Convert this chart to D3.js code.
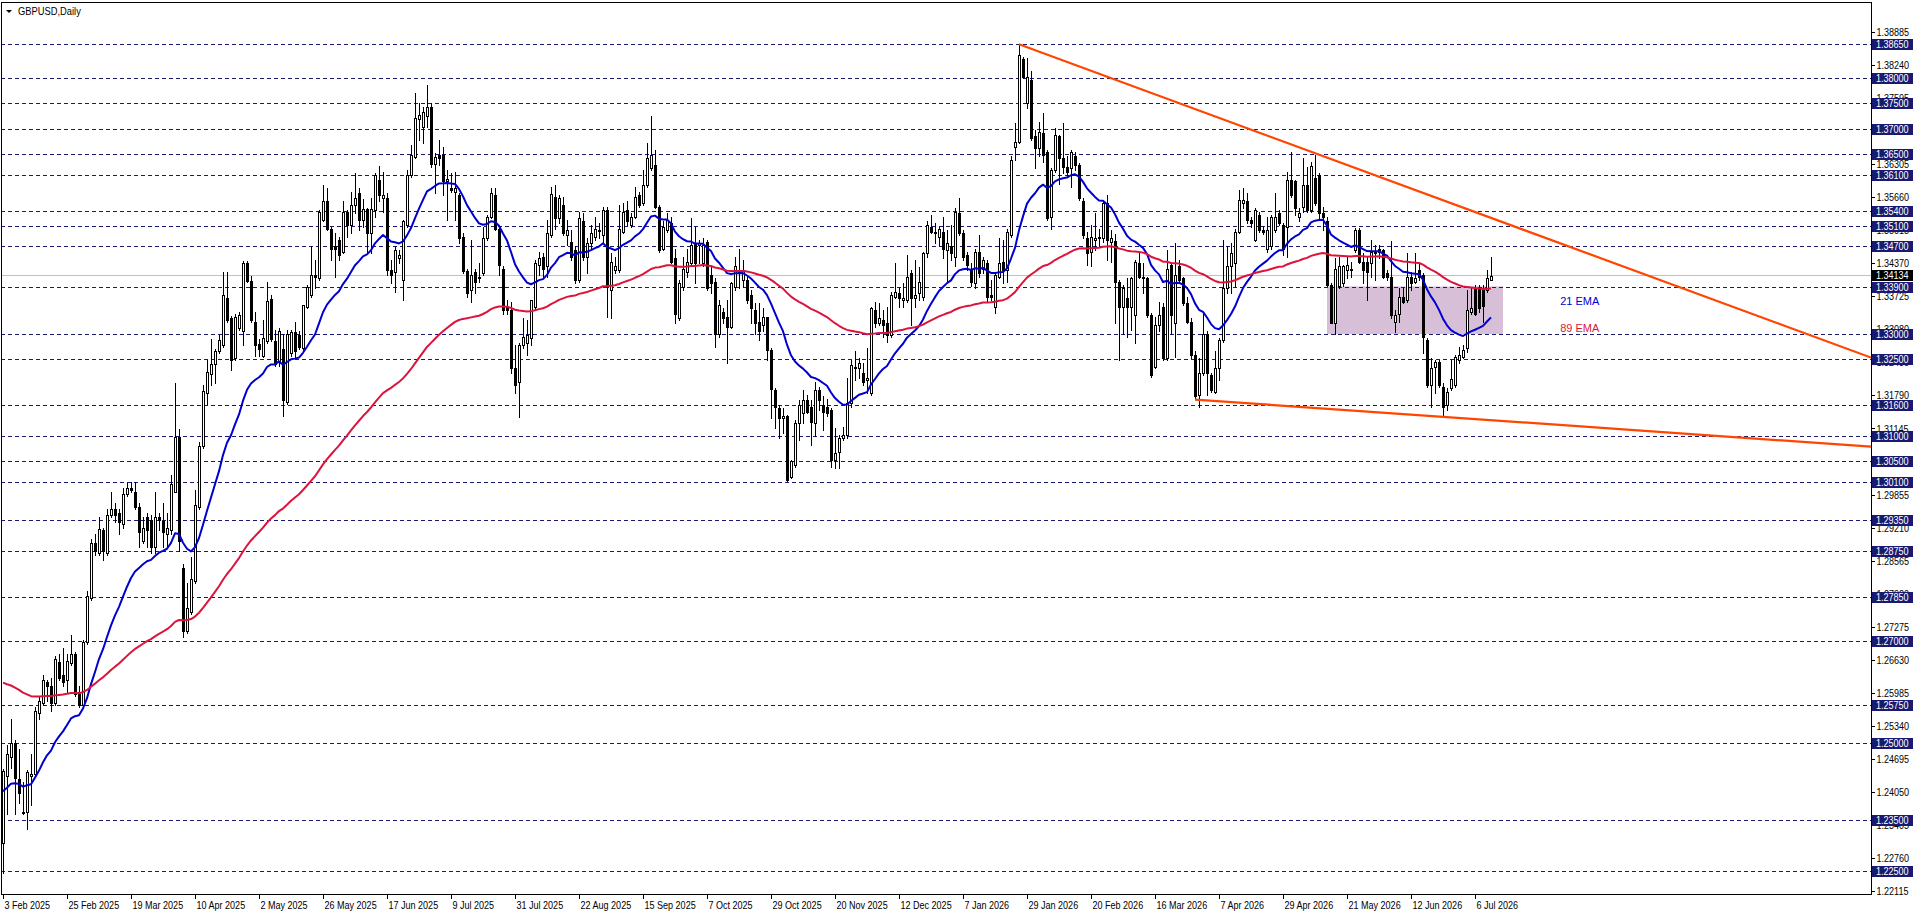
<!DOCTYPE html>
<html><head><meta charset="utf-8">
<script src="https://cdn.jsdelivr.net/npm/d3@7/dist/d3.min.js"></script>
<style>html,body{margin:0;padding:0;background:#fff;overflow:hidden}svg{display:block}</style>
</head><body>
<svg id="chart" width="1916" height="915"></svg>
<script>
// ---------------- DATA ----------------
const opens = [
1.2304,1.2435,1.2472,1.2501,1.2429,1.2366,1.2366,1.2435,1.2439,1.2559,
1.2579,1.2620,1.2612,1.2579,1.2659,1.2632,1.2624,1.2657,1.2674,1.2600,
1.2575,1.2698,1.2784,1.2891,1.2871,1.2916,1.2871,1.2945,1.2957,1.2949,
1.2928,1.2986,1.2998,1.2990,1.2961,1.2895,1.2941,1.2936,1.2883,1.2941,
1.2934,1.2908,1.2916,1.2990,1.3097,1.2842,1.2719,1.2756,1.2817,1.2961,
1.3080,1.3183,1.3220,1.3240,1.3265,1.3277,1.3369,1.3331,1.3253,1.3310,
1.3304,1.3438,1.3402,1.3323,1.3279,1.3257,1.3286,1.3368,1.3286,1.3245,
1.3269,1.3166,1.3261,1.3302,1.3298,1.3271,1.3352,1.3375,1.3414,1.3408,
1.3522,1.3558,1.3505,1.3470,1.3483,1.3460,1.3538,1.3512,1.3551,1.3574,
1.3522,1.3543,1.3496,1.3541,1.3600,1.3564,1.3564,1.3424,1.3421,1.3447,
1.3405,1.3512,1.3610,1.3645,1.3720,1.3704,1.3724,1.3743,1.3632,1.3649,
1.3649,1.3597,1.3584,1.3577,1.3571,1.3489,1.3423,1.3385,1.3421,1.3411,
1.3418,1.3486,1.3528,1.3571,1.3505,1.3427,1.3352,1.3346,1.3232,1.3206,
1.3278,1.3281,1.3291,1.3352,1.3434,1.3450,1.3431,1.3492,1.3567,1.3525,
1.3551,1.3492,1.3479,1.3463,1.3405,1.3519,1.3450,1.3476,1.3489,1.3501,
1.3492,1.3541,1.3385,1.3424,1.3424,1.3499,1.3541,1.3512,1.3528,1.3571,
1.3554,1.3590,1.3623,1.3629,1.3548,1.3466,1.3502,1.3515,1.3447,1.3330,
1.3391,1.3421,1.3437,1.3476,1.3473,1.3437,1.3479,1.3414,1.3401,1.3300,
1.3343,1.3333,1.3313,1.3391,1.3424,1.3405,1.3405,1.3375,1.3346,1.3323,
1.3317,1.3333,1.3268,1.3190,1.3154,1.3134,1.3138,1.3020,1.3043,1.3125,
1.3144,1.3170,1.3157,1.3125,1.3190,1.3160,1.3157,1.3150,1.3053,1.3069,
1.3095,1.3102,1.3164,1.3232,1.3232,1.3222,1.3209,1.3183,1.3346,1.3320,
1.3326,1.3320,1.3297,1.3372,1.3379,1.3366,1.3366,1.3418,1.3369,1.3380,
1.3372,1.3457,1.3509,1.3496,1.3489,1.3499,1.3463,1.3470,1.3450,1.3535,
1.3496,1.3453,1.3427,1.3398,1.3460,1.3427,1.3437,1.3375,1.3352,1.3411,
1.3440,1.3424,1.3492,1.3665,1.3675,1.3836,1.3750,1.3795,1.3685,1.3662,
1.3691,1.3655,1.3528,1.3620,1.3685,1.3642,1.3626,1.3623,1.3646,1.3629,
1.3558,1.3486,1.3460,1.3483,1.3486,1.3486,1.3554,1.3479,1.3480,1.3401,
1.3352,1.3369,1.3352,1.3337,1.3437,1.3411,1.3408,1.3337,1.3235,1.3317,
1.3352,1.3252,1.3434,1.3320,1.3431,1.3408,1.3359,1.3323,1.3258,1.3180,
1.3222,1.3300,1.3219,1.3186,1.3232,1.3287,1.3388,1.3431,1.3437,1.3499,
1.3554,1.3558,1.3522,1.3483,1.3532,1.3502,1.3466,1.3470,1.3502,1.3535,
1.3512,1.3509,1.3600,1.3597,1.3527,1.3548,1.3590,1.3541,1.3603,1.3610,
1.3535,1.3519,1.3395,1.3320,1.3392,1.3398,1.3424,1.3427,1.3463,1.3502,
1.3440,1.3440,1.3437,1.3457,1.3466,1.3463,1.3418,1.3411,1.3323,1.3339,
1.3372,1.3366,1.3411,1.3401,1.3424,1.3414,1.3287,1.3199,1.3235,1.3245,
1.3196,1.3160,1.3193,1.3199,1.3248,1.3255,1.3271,1.3343,1.3388,1.3388,
1.3385,1.3385,1.3405];

const highs = [
1.2450,1.2497,1.2546,1.2505,1.2489,1.2423,1.2448,1.2479,1.2571,1.2591,
1.2632,1.2624,1.2628,1.2670,1.2674,1.2686,1.2674,1.2711,1.2678,1.2612,
1.2702,1.2797,1.2899,1.2908,1.2941,1.2920,1.2957,1.2990,1.2969,1.2957,
1.2998,1.3008,1.3010,1.3010,1.2969,1.2941,1.2949,1.2945,1.2990,1.2949,
1.2969,1.2949,1.3023,1.3203,1.3113,1.2850,1.2813,1.2863,1.2994,1.3089,
1.3199,1.3249,1.3290,1.3269,1.3298,1.3421,1.3421,1.3335,1.3339,1.3343,
1.3442,1.3442,1.3412,1.3343,1.3290,1.3327,1.3401,1.3376,1.3306,1.3310,
1.3298,1.3306,1.3306,1.3323,1.3305,1.3356,1.3395,1.3470,1.3443,1.3541,
1.3590,1.3584,1.3509,1.3496,1.3489,1.3558,1.3541,1.3577,1.3613,1.3584,
1.3562,1.3545,1.3564,1.3613,1.3627,1.3616,1.3574,1.3443,1.3470,1.3463,
1.3522,1.3619,1.3668,1.3769,1.3750,1.3743,1.3785,1.3750,1.3652,1.3678,
1.3665,1.3619,1.3613,1.3616,1.3574,1.3496,1.3427,1.3483,1.3427,1.3437,
1.3509,1.3532,1.3584,1.3584,1.3509,1.3431,1.3365,1.3362,1.3278,1.3281,
1.3330,1.3326,1.3365,1.3443,1.3460,1.3457,1.3522,1.3587,1.3590,1.3570,
1.3567,1.3522,1.3502,1.3470,1.3538,1.3535,1.3486,1.3512,1.3528,1.3515,
1.3548,1.3548,1.3457,1.3450,1.3551,1.3554,1.3558,1.3535,1.3587,1.3577,
1.3619,1.3672,1.3724,1.3658,1.3551,1.3519,1.3535,1.3528,1.3466,1.3405,
1.3450,1.3466,1.3525,1.3509,1.3483,1.3486,1.3483,1.3431,1.3408,1.3365,
1.3349,1.3365,1.3401,1.3450,1.3466,1.3443,1.3411,1.3385,1.3359,1.3359,
1.3349,1.3333,1.3271,1.3193,1.3160,1.3154,1.3141,1.3053,1.3131,1.3170,
1.3190,1.3180,1.3170,1.3206,1.3196,1.3177,1.3173,1.3154,1.3115,1.3102,
1.3118,1.3213,1.3248,1.3265,1.3252,1.3242,1.3271,1.3352,1.3362,1.3359,
1.3346,1.3352,1.3382,1.3437,1.3388,1.3398,1.3453,1.3424,1.3444,1.3430,
1.3460,1.3519,1.3532,1.3515,1.3509,1.3528,1.3502,1.3512,1.3545,1.3564,
1.3502,1.3460,1.3437,1.3466,1.3492,1.3450,1.3444,1.3405,1.3421,1.3486,
1.3483,1.3505,1.3646,1.3711,1.3864,1.3841,1.3838,1.3812,1.3698,1.3714,
1.3730,1.3659,1.3623,1.3701,1.3688,1.3711,1.3646,1.3659,1.3655,1.3633,
1.3564,1.3499,1.3512,1.3535,1.3505,1.3561,1.3571,1.3502,1.3495,1.3405,
1.3395,1.3408,1.3411,1.3444,1.3460,1.3437,1.3411,1.3340,1.3333,1.3362,
1.3359,1.3463,1.3437,1.3476,1.3444,1.3411,1.3372,1.3330,1.3265,1.3252,
1.3343,1.3304,1.3222,1.3265,1.3291,1.3483,1.3470,1.3476,1.3505,1.3580,
1.3584,1.3574,1.3528,1.3545,1.3538,1.3510,1.3528,1.3532,1.3574,1.3541,
1.3515,1.3616,1.3655,1.3600,1.3545,1.3642,1.3626,1.3636,1.3649,1.3613,
1.3548,1.3528,1.3398,1.3447,1.3450,1.3434,1.3450,1.3440,1.3506,1.3506,
1.3457,1.3450,1.3483,1.3473,1.3473,1.3466,1.3425,1.3480,1.3346,1.3388,
1.3388,1.3457,1.3421,1.3457,1.3437,1.3418,1.3291,1.3252,1.3248,1.3248,
1.3203,1.3193,1.3248,1.3258,1.3274,1.3278,1.3385,1.3388,1.3395,1.3395,
1.3395,1.3424,1.3450];

const lows = [
1.2246,1.2361,1.2452,1.2361,1.2382,1.2361,1.2333,1.2378,1.2435,1.2546,
1.2575,1.2583,1.2563,1.2575,1.2624,1.2612,1.2600,1.2653,1.2591,1.2571,
1.2571,1.2694,1.2780,1.2867,1.2867,1.2858,1.2867,1.2941,1.2932,1.2908,
1.2920,1.2982,1.2990,1.2957,1.2883,1.2891,1.2883,1.2871,1.2871,1.2916,
1.2883,1.2883,1.2908,1.2990,1.2875,1.2707,1.2715,1.2752,1.2813,1.2957,
1.3076,1.3162,1.3199,1.3203,1.3261,1.3273,1.3323,1.3228,1.3249,1.3306,
1.3277,1.3401,1.3323,1.3257,1.3257,1.3255,1.3282,1.3286,1.3236,1.3236,
1.3138,1.3162,1.3257,1.3253,1.3270,1.3268,1.3350,1.3372,1.3388,1.3405,
1.3519,1.3502,1.3443,1.3411,1.3443,1.3457,1.3489,1.3496,1.3535,1.3502,
1.3509,1.3457,1.3457,1.3528,1.3558,1.3538,1.3414,1.3398,1.3382,1.3437,
1.3365,1.3509,1.3606,1.3642,1.3678,1.3672,1.3704,1.3626,1.3574,1.3629,
1.3571,1.3522,1.3577,1.3522,1.3476,1.3418,1.3372,1.3362,1.3379,1.3401,
1.3414,1.3483,1.3525,1.3502,1.3414,1.3339,1.3339,1.3222,1.3183,1.3137,
1.3271,1.3258,1.3278,1.3346,1.3414,1.3408,1.3411,1.3489,1.3505,1.3515,
1.3492,1.3473,1.3443,1.3398,1.3401,1.3443,1.3418,1.3466,1.3483,1.3486,
1.3476,1.3333,1.3330,1.3418,1.3421,1.3496,1.3512,1.3509,1.3525,1.3548,
1.3551,1.3587,1.3619,1.3545,1.3460,1.3463,1.3499,1.3437,1.3320,1.3326,
1.3385,1.3411,1.3434,1.3398,1.3437,1.3431,1.3385,1.3379,1.3274,1.3294,
1.3320,1.3242,1.3310,1.3385,1.3388,1.3391,1.3359,1.3320,1.3300,1.3287,
1.3304,1.3248,1.3134,1.3115,1.3095,1.3105,1.3012,1.3017,1.3040,1.3092,
1.3125,1.3144,1.3082,1.3099,1.3150,1.3112,1.3138,1.3040,1.3037,1.3037,
1.3092,1.3095,1.3157,1.3209,1.3213,1.3199,1.3183,1.3180,1.3313,1.3317,
1.3294,1.3284,1.3294,1.3369,1.3352,1.3352,1.3362,1.3317,1.3352,1.3365,
1.3366,1.3450,1.3496,1.3476,1.3470,1.3447,1.3401,1.3444,1.3431,1.3492,
1.3444,1.3424,1.3392,1.3388,1.3411,1.3418,1.3362,1.3366,1.3340,1.3408,
1.3398,1.3401,1.3489,1.3639,1.3672,1.3799,1.3740,1.3678,1.3623,1.3646,
1.3636,1.3522,1.3505,1.3616,1.3593,1.3613,1.3606,1.3587,1.3620,1.3561,
1.3486,1.3434,1.3431,1.3463,1.3470,1.3479,1.3444,1.3440,1.3320,1.3248,
1.3300,1.3294,1.3307,1.3281,1.3408,1.3379,1.3333,1.3216,1.3232,1.3304,
1.3248,1.3248,1.3300,1.3255,1.3401,1.3356,1.3320,1.3252,1.3173,1.3157,
1.3219,1.3180,1.3186,1.3183,1.3209,1.3284,1.3379,1.3379,1.3392,1.3496,
1.3545,1.3515,1.3509,1.3480,1.3499,1.3495,1.3460,1.3466,1.3499,1.3512,
1.3453,1.3450,1.3567,1.3532,1.3520,1.3538,1.3538,1.3538,1.3551,1.3522,
1.3502,1.3392,1.3320,1.3300,1.3388,1.3392,1.3408,1.3411,1.3460,1.3437,
1.3398,1.3366,1.3411,1.3405,1.3447,1.3408,1.3405,1.3330,1.3303,1.3323,
1.3359,1.3362,1.3385,1.3398,1.3405,1.3261,1.3196,1.3157,1.3183,1.3196,
1.3141,1.3151,1.3190,1.3196,1.3242,1.3252,1.3264,1.3339,1.3336,1.3343,
1.3323,1.3382,1.3405];

const closes = [
1.2446,1.2479,1.2501,1.2431,1.2403,1.2363,1.2444,1.2439,1.2563,1.2583,
1.2624,1.2612,1.2579,1.2665,1.2628,1.2620,1.2661,1.2674,1.2596,1.2575,
1.2698,1.2788,1.2891,1.2875,1.2918,1.2875,1.2945,1.2958,1.2945,1.2932,
1.2986,1.2998,1.2994,1.2961,1.2912,1.2920,1.2916,1.2883,1.2942,1.2936,
1.2912,1.2920,1.3006,1.3097,1.2895,1.2719,1.2764,1.2821,1.2965,1.3080,
1.3187,1.3224,1.3240,1.3265,1.3287,1.3376,1.3327,1.3249,1.3333,1.3337,
1.3438,1.3402,1.3327,1.3277,1.3269,1.3292,1.3364,1.3290,1.3240,1.3304,
1.3171,1.3300,1.3302,1.3265,1.3273,1.3356,1.3391,1.3414,1.3411,1.3538,
1.3558,1.3505,1.3466,1.3466,1.3453,1.3538,1.3512,1.3551,1.3564,1.3522,
1.3543,1.3496,1.3543,1.3610,1.3571,1.3571,1.3424,1.3414,1.3463,1.3453,
1.3519,1.3610,1.3649,1.3722,1.3727,1.3733,1.3743,1.3632,1.3645,1.3642,
1.3597,1.3601,1.3580,1.3584,1.3486,1.3423,1.3379,1.3414,1.3401,1.3408,
1.3486,1.3528,1.3574,1.3505,1.3434,1.3346,1.3346,1.3232,1.3199,1.3278,
1.3294,1.3297,1.3365,1.3437,1.3447,1.3427,1.3496,1.3572,1.3525,1.3564,
1.3496,1.3502,1.3450,1.3405,1.3525,1.3450,1.3476,1.3496,1.3505,1.3502,
1.3541,1.3391,1.3440,1.3431,1.3505,1.3538,1.3519,1.3528,1.3567,1.3551,
1.3590,1.3642,1.3649,1.3548,1.3463,1.3509,1.3522,1.3440,1.3339,1.3398,
1.3427,1.3440,1.3473,1.3437,1.3476,1.3473,1.3388,1.3398,1.3300,1.3356,
1.3330,1.3313,1.3398,1.3431,1.3418,1.3424,1.3365,1.3349,1.3320,1.3304,
1.3333,1.3268,1.3192,1.3157,1.3134,1.3138,1.3014,1.3050,1.3125,1.3160,
1.3170,1.3147,1.3128,1.3190,1.3170,1.3147,1.3144,1.3053,1.3066,1.3095,
1.3102,1.3164,1.3238,1.3235,1.3242,1.3206,1.3213,1.3349,1.3320,1.3330,
1.3317,1.3297,1.3375,1.3382,1.3369,1.3369,1.3411,1.3369,1.3375,1.3400,
1.3457,1.3512,1.3499,1.3499,1.3505,1.3466,1.3476,1.3457,1.3538,1.3496,
1.3450,1.3434,1.3401,1.3460,1.3418,1.3444,1.3372,1.3372,1.3414,1.3437,
1.3424,1.3499,1.3639,1.3675,1.3844,1.3802,1.3802,1.3681,1.3662,1.3694,
1.3649,1.3525,1.3620,1.3688,1.3642,1.3626,1.3616,1.3655,1.3629,1.3564,
1.3492,1.3457,1.3489,1.3486,1.3489,1.3554,1.3483,1.3486,1.3400,1.3352,
1.3388,1.3352,1.3408,1.3440,1.3411,1.3408,1.3337,1.3219,1.3317,1.3337,
1.3252,1.3427,1.3337,1.3414,1.3405,1.3359,1.3323,1.3258,1.3177,1.3222,
1.3300,1.3222,1.3190,1.3232,1.3287,1.3388,1.3431,1.3457,1.3499,1.3561,
1.3561,1.3522,1.3515,1.3541,1.3502,1.3499,1.3502,1.3528,1.3528,1.3515,
1.3466,1.3600,1.3571,1.3545,1.3536,1.3590,1.3541,1.3627,1.3554,1.3535,
1.3527,1.3395,1.3320,1.3427,1.3431,1.3431,1.3434,1.3424,1.3502,1.3440,
1.3424,1.3421,1.3460,1.3460,1.3460,1.3411,1.3411,1.3336,1.3336,1.3372,
1.3362,1.3411,1.3398,1.3408,1.3411,1.3294,1.3199,1.3232,1.3245,1.3199,
1.3157,1.3186,1.3212,1.3255,1.3258,1.3268,1.3346,1.3349,1.3339,1.3349,
1.3353,1.3408,1.3413];

// x-axis date labels, one every 16 bars starting at bar 0
const dateLabels = ["3 Feb 2025","25 Feb 2025","19 Mar 2025","10 Apr 2025","2 May 2025","26 May 2025",
  "17 Jun 2025","9 Jul 2025","31 Jul 2025","22 Aug 2025","15 Sep 2025","7 Oct 2025","29 Oct 2025",
  "20 Nov 2025","12 Dec 2025","7 Jan 2026","29 Jan 2026","20 Feb 2026","16 Mar 2026","7 Apr 2026",
  "29 Apr 2026","21 May 2026","12 Jun 2026","6 Jul 2026"];
const dateBars = [0,16,32,48,64,80,96,112,128,144,160,176,192,208,224,240,256,272,288,304,320,336,352,368];

// right price-scale tick labels
const priceTicks = ["1.22115","1.22760","1.23405","1.24050","1.24695","1.25340","1.25985","1.26630",
  "1.27275","1.27920","1.28565","1.29210","1.29855","1.30500","1.31145","1.31790","1.32435","1.33080",
  "1.33725","1.34370","1.35015","1.35660","1.36305","1.36950","1.37595","1.38240","1.38885"];

// horizontal level lines
const levels = [1.38650,1.38000,1.37500,1.37000,1.36500,1.36100,1.35400,1.35100,1.34700,1.33900,1.33000,
  1.32500,1.31600,1.31000,1.30500,1.30100,1.29350,1.28750,1.27850,1.27000,1.25750,1.25000,1.23500,1.22500];
const currentPrice = 1.34134;

// EMA settings (periods and starting values read at the first bar)
const emaPeriods = [21, 89];
const emaStart = [1.2406, 1.2618];
const emaNames = ["21 EMA", "89 EMA"];
const emaLabelAt = [{bar: 389.3, price: 1.3364}, {bar: 389.3, price: 1.3311}];

// trend lines (bar index, price)
const upperTrend = [{bar: 254, price: 1.3865}, {bar: 467, price: 1.3253}];
const lowerTrend = [{bar: 298, price: 1.3171}, {bar: 467, price: 1.3079}];
// consolidation box
const zoneBars = [331, 375];
const zonePrices = [1.3392, 1.3299];

const title = "GBPUSD,Daily";

// ---------------- DRAW ----------------
const W = 1916, H = 915;
const P = {left: 1, top: 2, right: 1871, bottom: 894};
const FONT = "'Liberation Sans', Arial, sans-serif";
const NAVY = "#191970";

const svg = d3.select("#chart");
svg.append("rect").attr("width", W).attr("height", H).attr("fill", "#fff");

const x = d3.scaleLinear().domain([0, 467]).range([3, 1871]);
const y = d3.scaleLinear().domain([1.225, 1.3865]).range([871, 44.3]);

svg.append("defs").append("clipPath").attr("id", "clip")
  .append("rect").attr("x", P.left).attr("y", P.top)
  .attr("width", P.right - P.left).attr("height", P.bottom - P.top);
const g = svg.append("g").attr("clip-path", "url(#clip)");

// zone box
g.append("rect")
  .attr("x", x(zoneBars[0])).attr("y", y(zonePrices[0]))
  .attr("width", x(zoneBars[1]) - x(zoneBars[0]))
  .attr("height", y(zonePrices[1]) - y(zonePrices[0]))
  .attr("fill", "#D8BFD8");

// level lines
g.append("g").attr("shape-rendering", "crispEdges")
  .selectAll("line").data(levels).join("line")
  .attr("x1", P.left).attr("x2", P.right)
  .attr("y1", d => Math.round(y(d)) + 0.5).attr("y2", d => Math.round(y(d)) + 0.5)
  .attr("stroke", NAVY).attr("stroke-width", 1).attr("stroke-dasharray", "4,3");

// current price line
g.append("line").attr("shape-rendering", "crispEdges")
  .attr("x1", P.left).attr("x2", P.right)
  .attr("y1", Math.round(y(currentPrice)) + 0.5).attr("y2", Math.round(y(currentPrice)) + 0.5)
  .attr("stroke", "#C0C0C0").attr("stroke-width", 1);

// candles
const bars = closes.map((c, i) => ({i, o: opens[i], h: highs[i], l: lows[i], c}));
const cg = g.append("g").attr("shape-rendering", "crispEdges");
cg.selectAll("line.wick").data(bars).join("line").attr("class", "wick")
  .attr("x1", d => Math.round(x(d.i)) + 0.5).attr("x2", d => Math.round(x(d.i)) + 0.5)
  .attr("y1", d => Math.round(y(Math.max(d.h, d.o, d.c))))
  .attr("y2", d => Math.round(y(Math.min(d.l, d.o, d.c))) + 1)
  .attr("stroke", "#000").attr("stroke-width", 1);

bars.forEach(d => {
  const cx = Math.round(x(d.i));
  const yt = Math.round(y(Math.max(d.o, d.c)));
  const yb = Math.round(y(Math.min(d.o, d.c)));
  if (d.c > d.o && yb - yt >= 2) {
    cg.append("rect").attr("x", cx - 0.5).attr("y", yt + 0.5)
      .attr("width", 2).attr("height", yb - yt)
      .attr("fill", "#fff").attr("stroke", "#000").attr("stroke-width", 1);
  } else {
    cg.append("rect").attr("x", cx - 1).attr("y", yt)
      .attr("width", 3).attr("height", Math.max(1, yb - yt + 1))
      .attr("fill", "#000");
  }
});

// EMAs
function ema(vals, period, start) {
  const k = 2 / (period + 1);
  let e = start;
  return vals.map((v, i) => { if (i > 0) e = e + k * (v - e); return e; });
}
const emaColors = ["#0000CD", "#DC143C"];
const line = d3.line().x((d, i) => x(i)).y(d => y(d));
emaPeriods.forEach((p, j) => {
  g.append("path").datum(ema(closes, p, emaStart[j]))
    .attr("d", line).attr("fill", "none")
    .attr("stroke", emaColors[j]).attr("stroke-width", 2).attr("stroke-linejoin", "round");
});

// trend lines
[upperTrend, lowerTrend].forEach(t => {
  g.append("line")
    .attr("x1", x(t[0].bar)).attr("y1", y(t[0].price))
    .attr("x2", x(t[1].bar)).attr("y2", y(t[1].price))
    .attr("stroke", "#FF4500").attr("stroke-width", 2.2);
});

// EMA text labels
emaNames.forEach((n, j) => {
  g.append("text").attr("x", x(emaLabelAt[j].bar)).attr("y", y(emaLabelAt[j].price))
    .attr("dy", "0.36em").attr("font-family", FONT).attr("font-size", 11)
    .attr("fill", emaColors[j]).text(n);
});

// frame
const fr = svg.append("g").attr("shape-rendering", "crispEdges").attr("stroke", "#000").attr("stroke-width", 1);
fr.append("line").attr("x1", P.left + 0.5).attr("x2", P.left + 0.5).attr("y1", P.top).attr("y2", P.bottom + 1);
fr.append("line").attr("x1", P.left).attr("x2", P.right + 1).attr("y1", P.top + 0.5).attr("y2", P.top + 0.5);
fr.append("line").attr("x1", P.right + 0.5).attr("x2", P.right + 0.5).attr("y1", P.top).attr("y2", P.bottom + 1);
fr.append("line").attr("x1", P.left).attr("x2", P.right + 1).attr("y1", P.bottom + 0.5).attr("y2", P.bottom + 0.5);

function squish(sel, f) {
  sel.each(function () {
    const w = this.getComputedTextLength();
    d3.select(this).attr("textLength", w * f).attr("lengthAdjust", "spacingAndGlyphs");
  });
}

// right axis
const ra = svg.append("g").attr("transform", `translate(${P.right + 0.5},0)`)
  .call(d3.axisRight(y).tickValues(priceTicks.map(Number)).tickFormat(d3.format(".5f"))
    .tickSizeInner(3).tickSizeOuter(0).tickPadding(2));
ra.select(".domain").remove();
ra.selectAll("line").attr("stroke", "#000").attr("shape-rendering", "crispEdges");
ra.selectAll("text").attr("font-family", FONT).attr("font-size", 11).attr("fill", "#000");
squish(ra.selectAll("text"), 0.82);

// bottom axis
const ba = svg.append("g").attr("transform", `translate(0,${P.bottom + 0.5})`)
  .call(d3.axisBottom(x).tickValues(dateBars).tickFormat((d, i) => dateLabels[i])
    .tickSizeInner(4).tickSizeOuter(0).tickPadding(3));
ba.select(".domain").remove();
ba.selectAll("line").attr("stroke", "#000").attr("shape-rendering", "crispEdges");
ba.selectAll("text").attr("font-family", FONT).attr("font-size", 11).attr("fill", "#000")
  .attr("text-anchor", "start").attr("x", 1);
squish(ba.selectAll("text"), 0.82);

// level labels
const lab = svg.append("g");
levels.forEach(v => {
  const yy = Math.round(y(v));
  lab.append("rect").attr("x", P.right + 1).attr("y", yy - 5).attr("width", 41).attr("height", 11)
    .attr("fill", NAVY).attr("shape-rendering", "crispEdges");
  lab.append("text").attr("x", P.right + 5).attr("y", yy + 0.5).attr("dy", "0.35em")
    .attr("font-family", FONT).attr("font-size", 11).attr("fill", "#fff").text(v.toFixed(5));
});
{
  const yy = Math.round(y(currentPrice));
  lab.append("rect").attr("x", P.right + 1).attr("y", yy - 5).attr("width", 41).attr("height", 11)
    .attr("fill", "#000").attr("shape-rendering", "crispEdges");
  lab.append("text").attr("x", P.right + 5).attr("y", yy + 0.5).attr("dy", "0.35em")
    .attr("font-family", FONT).attr("font-size", 11).attr("fill", "#fff").text(currentPrice.toFixed(5));
}
squish(lab.selectAll("text"), 0.82);

// title
svg.append("path").attr("d", "M6,10 L12,10 L9,13 Z").attr("fill", "#000");
const tt = svg.append("text").attr("x", 18).attr("y", 15).attr("font-family", FONT)
  .attr("font-size", 11).attr("fill", "#000").text(title);
squish(tt, 0.85);
</script>
</body></html>
